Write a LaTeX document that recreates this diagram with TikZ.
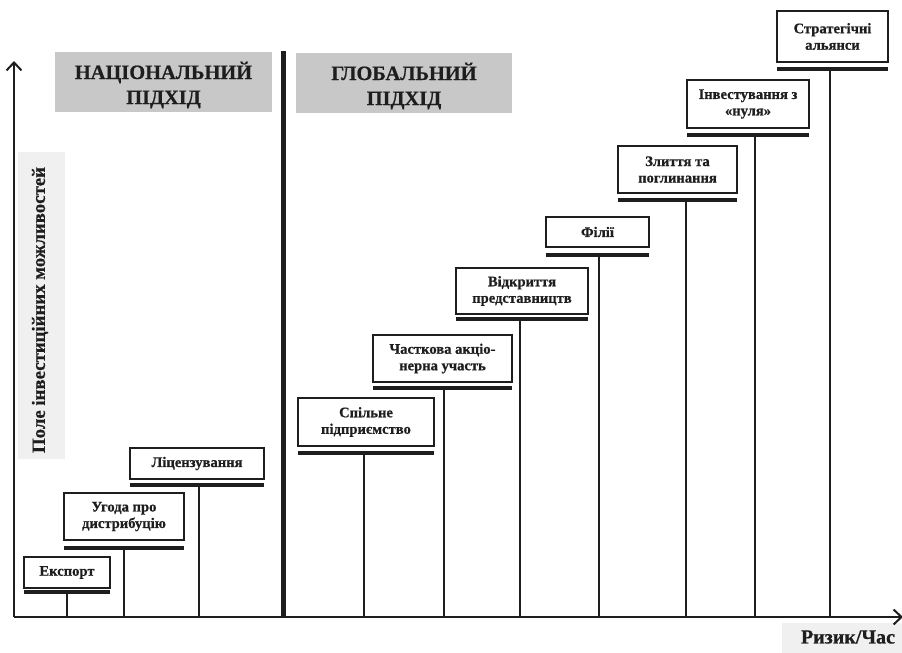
\documentclass[tikz,border=0pt]{standalone}
\usepackage{fontspec}
\setmainfont{Liberation Serif}[BoldFeatures={FakeBold=0.6}]
\usetikzlibrary{arrows.meta}
\definecolor{ink}{HTML}{1E1E1E}
\definecolor{titlegray}{HTML}{C8C8C8}
\definecolor{labelgray}{HTML}{F0F0F0}
\begin{document}
\begin{tikzpicture}[x=1pt,y=-1pt,
  stepbox/.style={draw=ink, line width=1.2pt, fill=white, align=center,
    font=\bfseries\fontsize{14.6}{16.5}\selectfont, inner sep=0pt, text=ink},
  barline/.style={draw=ink, line width=4.5pt},
  stemline/.style={draw=ink, line width=2pt},
  axisline/.style={draw=ink, line width=2pt},
  titlebox/.style={fill=titlegray, inner sep=0pt},
  titletext/.style={align=center, inner sep=0pt, text=ink,
    font=\bfseries\fontsize{20.4}{25}\selectfont},
  labelbox/.style={fill=labelgray, inner sep=0pt},
  labeltext/.style={text=ink, font=\bfseries\fontsize{18.8}{20}\selectfont}]
\useasboundingbox (0,0) rectangle (902,653);

% label backgrounds
\node[labelbox, minimum width=47pt, minimum height=307pt] (ylabbg) at (41.5,305.5) {};
\node[labeltext, rotate=90] (ylab) at (40,310) {Поле інвестиційних можливостей};
\node[labelbox, minimum width=122pt, minimum height=31pt] (xlabbg) at (843,638.5) {};
\node[labeltext, font=\bfseries\fontsize{20}{22}\selectfont] (xlab) at (848,637) {Ризик/Час};

% title boxes
\node[titlebox, minimum width=217pt, minimum height=60pt] (natbg) at (163.5,82) {};
\node[titletext] (nat) at (163.5,85) {НАЦІОНАЛЬНИЙ\\ПІДХІД};
\node[titlebox, minimum width=216pt, minimum height=60pt] (globbg) at (404,83) {};
\node[titletext] (glob) at (404,86) {ГЛОБАЛЬНИЙ\\ПІДХІД};

% axes
\coordinate (o) at (14,617);
\coordinate (ytop) at (14,61);
\coordinate (xend) at (903,617);
\draw[axisline, -{Straight Barb[length=8pt,width=15pt]}] (o) -- (ytop);
\draw[axisline, -{Straight Barb[length=8pt,width=15pt]}] (o) -- (xend);

% divider
\coordinate (divtop) at (283.5,51);
\coordinate (divbot) at (283.5,618);
\draw[draw=ink, line width=4.5pt] (divtop) -- (divbot);

% steps
\foreach \n/\xa/\xb/\ya/\yb/\yy/\sx/\t in {
  1/24/110/557/588/592/67/{Експорт},
  2/64/184/493/540/548/124/{Угода про\\дистрибуцію},
  3/130/264/448/479/485/199/{Ліцензування},
  4/298/434/398/446/453/364/{Спільне\\підприємство},
  5/373/512/335/382/388/444/{Часткова акціо-\\нерна участь},
  6/456/588/268/314/319/520/{Відкриття\\представництв},
  7/546/649/217/247/255/599/{Філії},
  8/618/737/146/193/200/686/{Злиття та\\поглинання},
  9/687/809/80/128/135/755/{Інвестування з\\«нуля»},
  10/777/888/11/62/69/830/{Стратегічні\\альянси}}
{
  \pgfmathsetmacro{\w}{\xb-\xa}
  \pgfmathsetmacro{\h}{\yb-\ya}
  \pgfmathsetmacro{\cx}{(\xa+\xb)/2}
  \pgfmathsetmacro{\cy}{(\ya+\yb)/2}
  \node[stepbox, minimum width=\w pt, minimum height=\h pt] (box\n) at (\cx,\cy) {\t};
  \coordinate (barl\n) at (\xa,\yy);
  \coordinate (barr\n) at (\xb,\yy);
  \coordinate (top\n) at (\sx,\yy);
  \coordinate (foot\n) at (\sx,617);
  \draw[barline] (barl\n) -- (barr\n);
  \draw[stemline] (top\n) -- (foot\n);
}
\end{tikzpicture}
\end{document}
